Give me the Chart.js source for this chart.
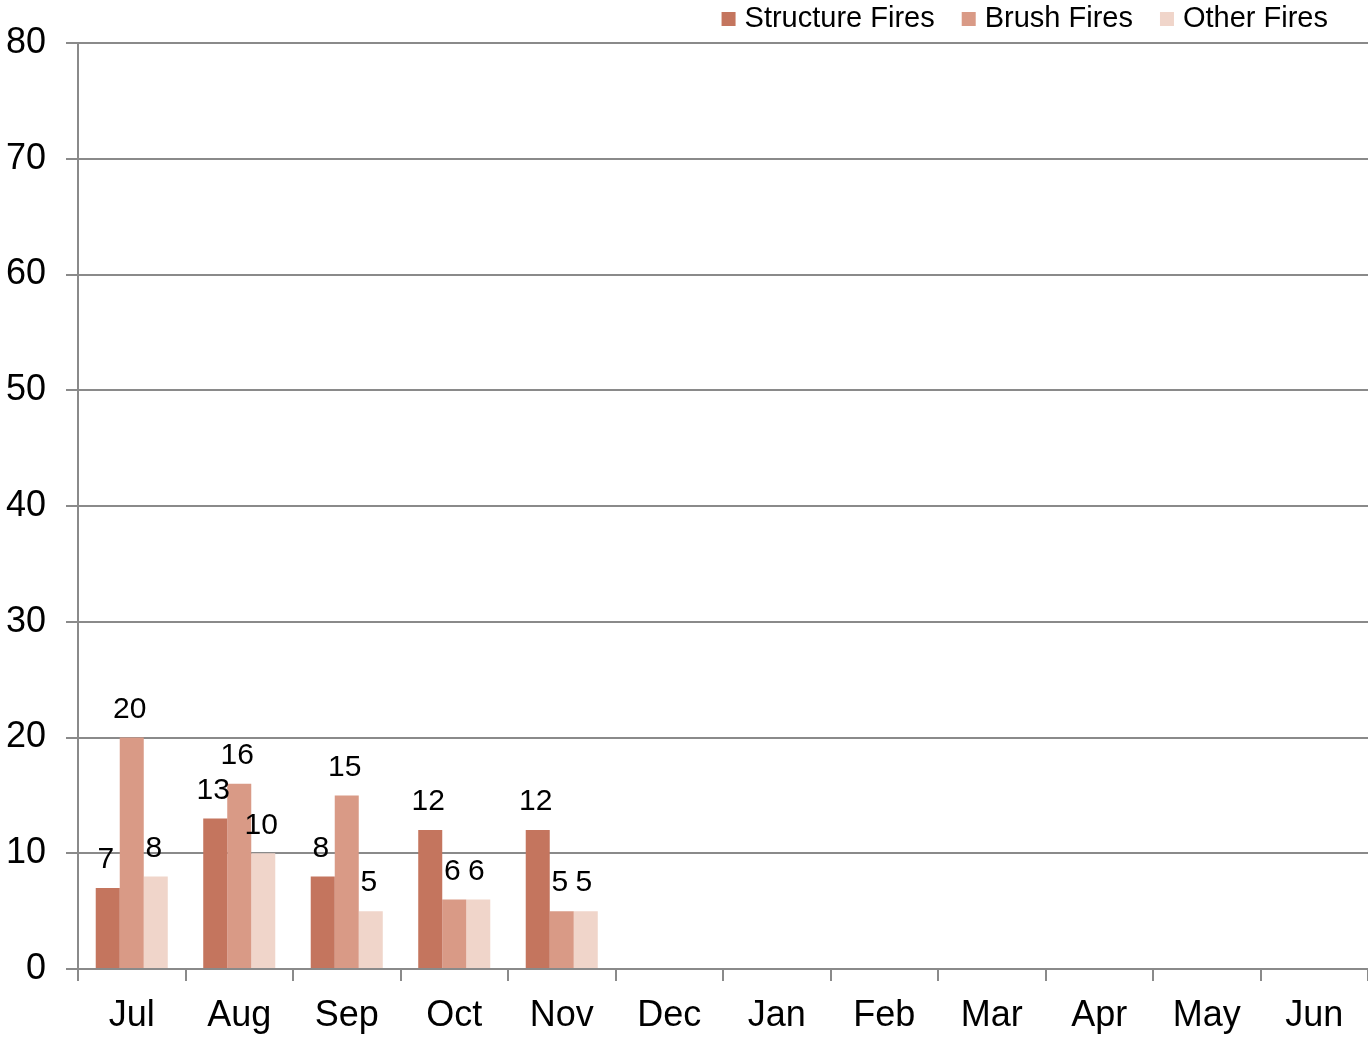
<!DOCTYPE html>
<html>
<head>
<meta charset="utf-8">
<script src="https://cdn.jsdelivr.net/npm/chart.js@4/dist/chart.umd.min.js"></script>
<style>
  html, body { margin: 0; padding: 0; background: #fff; }
  #wrap { width: 1368px; height: 1038px; }
</style>
</head>
<body>
<div id="wrap"><canvas id="chart-fires"></canvas></div>
<script>
// Data
var months = ['Jul', 'Aug', 'Sep', 'Oct', 'Nov', 'Dec', 'Jan', 'Feb', 'Mar', 'Apr', 'May', 'Jun'];
var structureFires = [7, 13, 8, 12, 12, null, null, null, null, null, null, null];
var brushFires = [20, 16, 15, 6, 5, null, null, null, null, null, null, null];
var otherFires = [8, 10, 5, 6, 5, null, null, null, null, null, null, null];
var yTicks = [0, 10, 20, 30, 40, 50, 60, 70, 80];

var FONT = "'Liberation Sans', Arial, sans-serif";
var GRID = '#8a8a8a';

// Value labels above each bar
var valueLabels = {
    id: 'valueLabels',
    afterDatasetsDraw: function (chart) {
        var ctx = chart.ctx;
        ctx.save();
        ctx.font = '30px ' + FONT;
        ctx.fillStyle = '#000';
        ctx.textAlign = 'center';
        ctx.textBaseline = 'middle';
        chart.data.datasets.forEach(function (ds, i) {
            var meta = chart.getDatasetMeta(i);
            meta.data.forEach(function (bar, j) {
                var v = ds.data[j];
                if (v === null || v === undefined) return;
                ctx.fillText(String(v), bar.x - 2, bar.y - 28);
            });
        });
        ctx.restore();
    }
};

// Compact legend in the top right corner (Excel style)
var cornerLegend = {
    id: 'cornerLegend',
    afterDraw: function (chart) {
        var ctx = chart.ctx;
        ctx.save();
        ctx.font = '29px ' + FONT;
        ctx.textBaseline = 'middle';
        var right = chart.chartArea.right - 40;
        var y = 19;
        var sets = chart.data.datasets.slice().reverse();
        sets.forEach(function (ds) {
            var w = ctx.measureText(ds.label).width;
            var tx = right - w;
            ctx.fillStyle = '#000';
            ctx.fillText(ds.label, tx, y);
            var bx = tx - 9 - 14;
            ctx.fillStyle = ds.backgroundColor;
            ctx.fillRect(bx, y - 7, 14, 14);
            right = bx - 27;
        });
        ctx.restore();
    }
};

new Chart(document.getElementById('chart-fires'), {
    type: 'bar',
    data: {
        labels: months,
        datasets: [{
            label: 'Structure Fires',
            data: structureFires,
            backgroundColor: '#c4755e',
        }, {
            label: 'Brush Fires',
            data: brushFires,
            backgroundColor: '#d99a86',
        }, {
            label: 'Other Fires',
            data: otherFires,
            backgroundColor: '#f0d5ca',
        }]
    },
    options: {
        responsive: true,
        maintainAspectRatio: false,
        animation: false,
        datasets: {
            bar: { categoryPercentage: 0.67, barPercentage: 1.0 }
        },
        layout: { padding: { left: 0, right: 0, top: 43, bottom: 0 } },
        plugins: {
            legend: { display: false },
            tooltip: { enabled: false },
        },
        scales: {
            x: {
                grid: {
                    display: true,
                    drawOnChartArea: false,
                    drawTicks: true,
                    tickLength: 12,
                    color: GRID,
                    lineWidth: 2,
                    offset: true,
                },
                border: { display: true, color: GRID, width: 2 },
                ticks: {
                    font: { family: FONT, size: 36 },
                    color: '#000',
                    padding: 13,
                    maxRotation: 0,
                    autoSkip: false,
                },
                afterFit: function (scale) { scale.height = 69; },
            },
            y: {
                min: 0,
                max: 80,
                afterBuildTicks: function (scale) {
                    scale.ticks = yTicks.map(function (v) { return { value: v }; });
                },
                grid: {
                    color: GRID,
                    lineWidth: 2,
                    tickLength: 12,
                },
                border: { display: true, color: GRID, width: 2 },
                ticks: {
                    font: { family: FONT, size: 36 },
                    color: '#000',
                    padding: 20,
                },
                afterFit: function (scale) { scale.width = 78; },
            }
        }
    },
    plugins: [valueLabels, cornerLegend]
});
</script>
</body>
</html>
